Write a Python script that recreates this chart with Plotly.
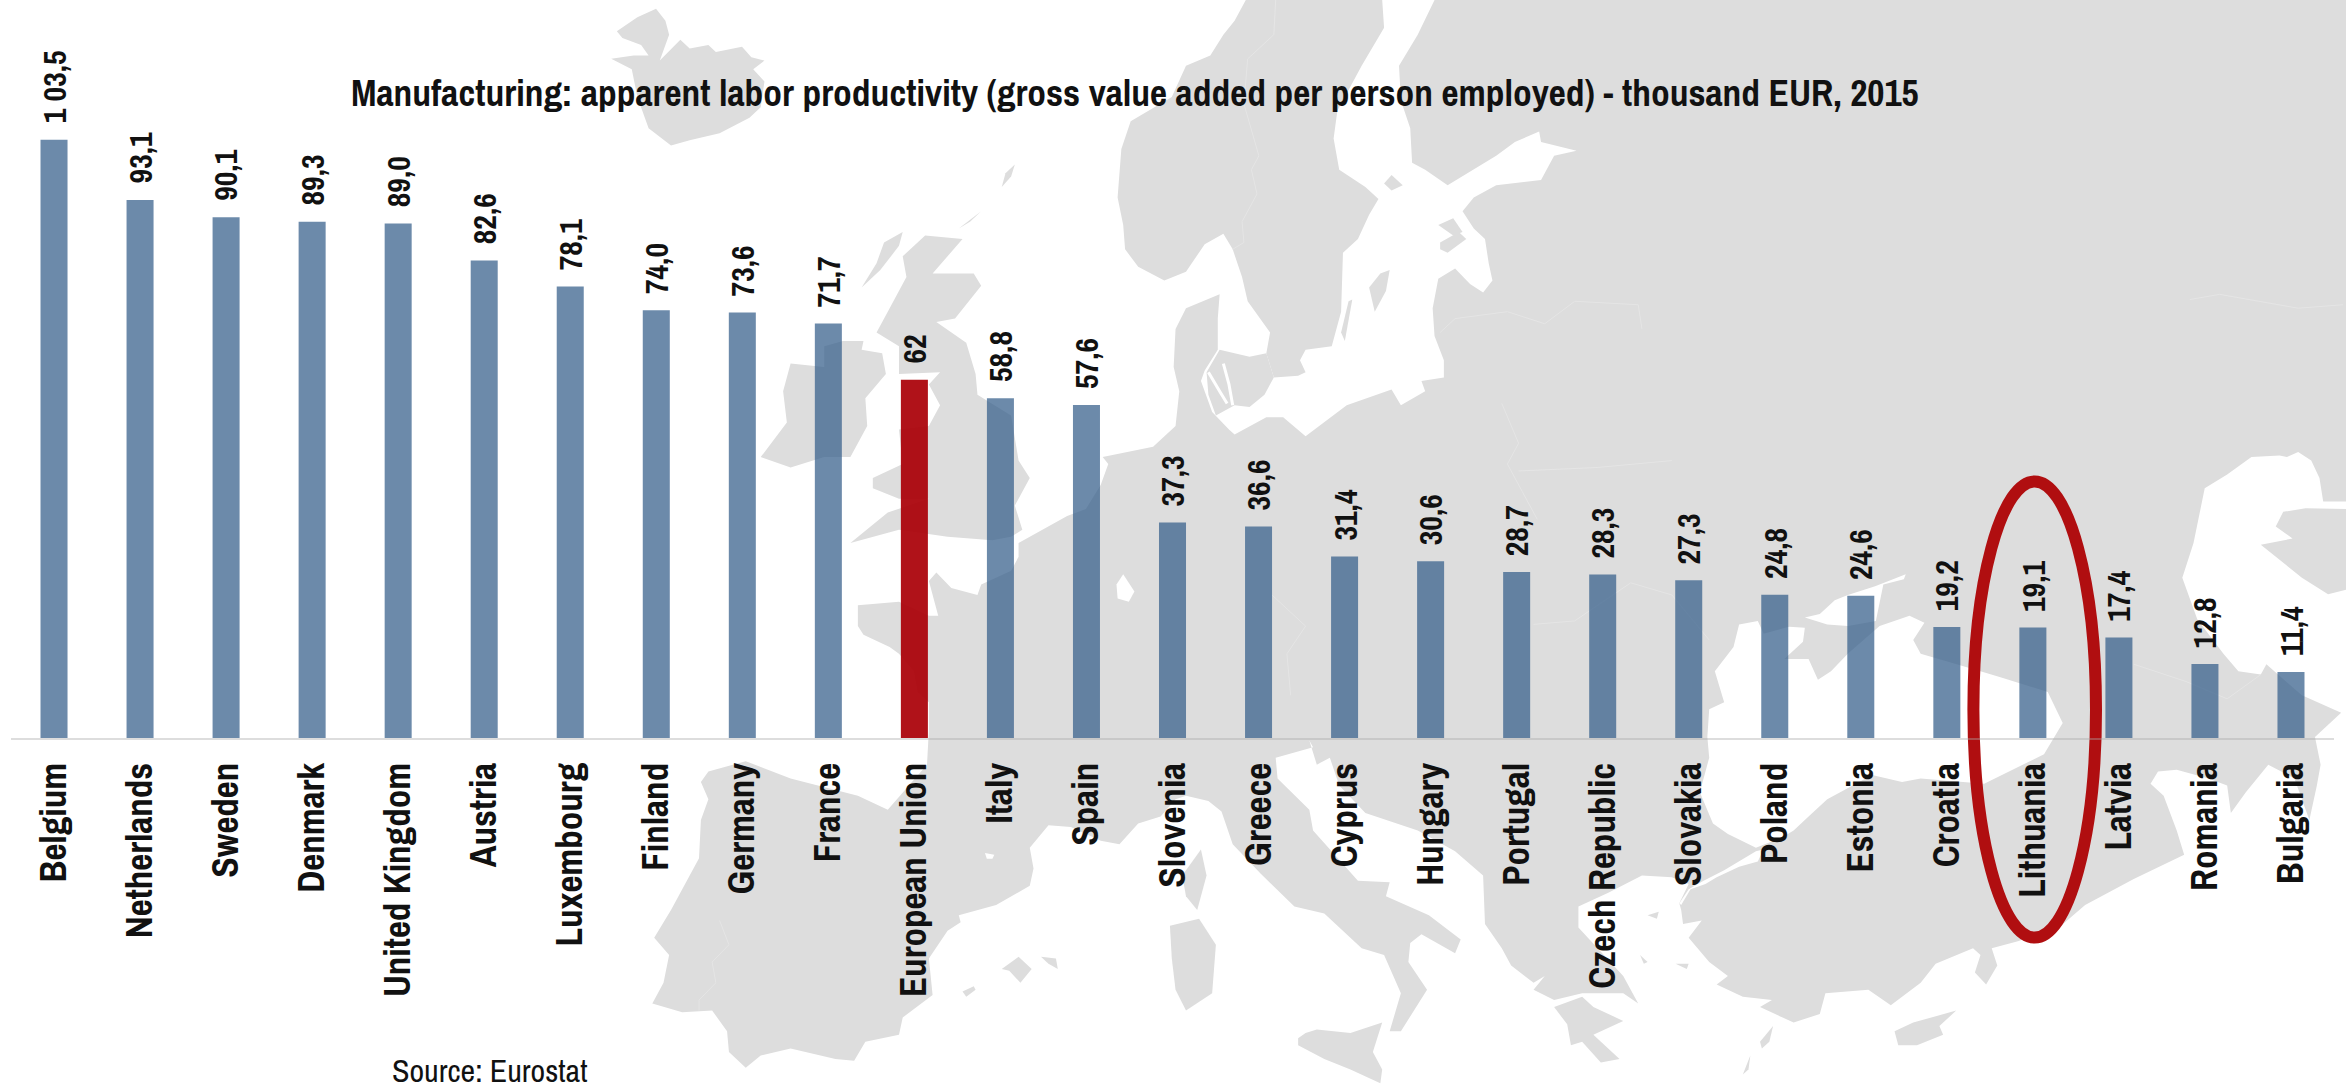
import plotly.graph_objects as go

# ---------- chart data ----------
countries = ["Belgium", "Netherlands", "Sweden", "Denmark", "United Kingdom", "Austria", "Luxembourg",
             "Finland", "Germany", "France", "European Union", "Italy", "Spain", "Slovenia", "Greece",
             "Cyprus", "Hungary", "Portugal", "Czech Republic", "Slovakia", "Poland", "Estonia",
             "Croatia", "Lithuania", "Latvia", "Romania", "Bulgaria"]
values = [103.5, 93.1, 90.1, 89.3, 89.0, 82.6, 78.1, 74.0, 73.6, 71.7, 62, 58.8, 57.6, 37.3, 36.6,
          31.4, 30.6, 28.7, 28.3, 27.3, 24.8, 24.6, 19.2, 19.1, 17.4, 12.8, 11.4]
value_labels = ["1 03,5", "93,1", "90,1", "89,3", "89,0", "82,6", "78,1", "74,0", "73,6", "71,7", "62",
                "58,8", "57,6", "37,3", "36,6", "31,4", "30,6", "28,7", "28,3", "27,3", "24,8", "24,6",
                "19,2", "19,1", "17,4", "12,8", "11,4"]
highlight = "European Union"
title_text = "Manufacturing: apparent labor productivity (gross value added per person employed) - thousand EUR, 2015"
source_text = "Source: Eurostat"

# ---------- page geometry ----------
W, H = 2346, 1086
L, R, BASE = 11, 12, 738
PW = W - L - R
NARROW = "Archivo Narrow, Roboto Condensed, Liberation Sans"
LAND = "#dddddd"

# ---------- background map (decoration, traced in six tiles of the page) ----------
ORG = {"A": (600, 0), "B": (1186, 0), "C": (1760, 0), "D": (600, 543), "E": (1186, 543), "F": (1760, 543)}
SX, SY = 1568 / 586, 1568 / 543


def tile(name, pts):
    ox, oy = ORG[name]
    return [(ox + x / SX, oy + y / SY) for x, y in pts]


def px_path(pts, close=True):
    s = " L ".join(f"{(x - L) / PW:.5f},{(BASE - y) / BASE:.5f}" for x, y in pts)
    return "M " + s + (" Z" if close else "")


scandinavia = (
    tile("B", [(160, 0), (130, 60), (100, 100), (65, 160), (0, 190)])
    + tile("A", [(1530, 280), (1420, 350), (1395, 430), (1385, 570), (1400, 650), (1405, 720), (1440, 770), (1510, 810)])
    + tile("B", [(0, 785), (50, 705), (100, 675), (125, 720), (150, 800), (165, 870), (225, 960), (215, 1020),
                 (235, 1090), (300, 1085), (320, 1075), (305, 1040), (320, 1010), (390, 1000), (415, 900),
                 (420, 730), (460, 690), (490, 620), (515, 575), (480, 540), (410, 490), (395, 400), (405, 320),
                 (470, 190), (530, 80), (525, 0)])
)
mainland = (
    tile("B", [(665, 0), (620, 100), (570, 190), (575, 290), (600, 370), (605, 470), (640, 490), (700, 535),
               (830, 450), (880, 410), (945, 380), (950, 410), (1045, 435), (985, 450), (950, 520), (830, 535),
               (770, 570), (740, 610), (770, 660), (800, 690), (810, 760), (820, 810), (795, 845), (760, 820),
               (720, 775), (675, 805), (660, 890), (665, 970), (690, 1040), (690, 1090), (630, 1100), (640, 1130),
               (575, 1170), (550, 1125), (430, 1170), (320, 1260), (260, 1205), (215, 1205), (130, 1255),
               (115, 1240), (70, 1190), (40, 1100), (50, 1070), (85, 1010), (85, 920), (90, 850), (0, 890)])
    + tile("A", [(1540, 950), (1535, 1060), (1550, 1130), (1540, 1230), (1480, 1290), (1345, 1320), (1360, 1340),
                 (1340, 1400), (1300, 1470), (1250, 1490), (1120, 1568)])
    + tile("D", [(1120, 40), (1100, 80), (1020, 120), (1010, 150), (940, 130), (900, 85), (880, 110), (905, 210),
                 (880, 210), (800, 170), (690, 180), (690, 240), (705, 265), (775, 300), (800, 320), (840, 370),
                 (850, 430), (880, 460), (880, 540), (875, 640), (770, 770), (690, 730), (510, 680), (390, 630),
                 (290, 660), (270, 690), (290, 740), (270, 800), (265, 910), (190, 1060), (145, 1140), (185, 1190),
                 (170, 1270), (140, 1330), (220, 1355), (300, 1350), (340, 1410), (345, 1470), (390, 1515),
                 (430, 1480), (510, 1460), (630, 1490), (680, 1495), (710, 1440), (800, 1420), (810, 1370),
                 (890, 1305), (880, 1200), (930, 1120), (965, 1095), (960, 1075), (1060, 1045), (1150, 990),
                 (1160, 940), (1150, 880), (1200, 815), (1260, 820), (1340, 860), (1390, 870), (1440, 810),
                 (1500, 790), (1540, 740)])
    + tile("E", [(0, 730), (60, 745), (95, 775), (125, 870), (200, 955), (290, 1050), (370, 1070), (470, 1170),
                 (530, 1190), (575, 1300), (545, 1410), (575, 1410), (645, 1290), (595, 1210), (600, 1155),
                 (630, 1130), (720, 1185), (735, 1145), (650, 1075), (535, 1020), (545, 980), (460, 975),
                 (340, 830), (330, 770), (245, 680), (240, 620), (340, 590), (330, 570), (350, 640), (385, 620),
                 (410, 700), (480, 780), (620, 830), (720, 890), (795, 960), (800, 1100), (845, 1170), (870, 1220),
                 (930, 1270), (960, 1250), (930, 1290), (985, 1320), (1060, 1300), (1170, 1300), (1210, 1330),
                 (1170, 1250), (1050, 1110), (1050, 1050), (1130, 1010), (1220, 960), (1300, 965), (1345, 985),
                 (1320, 1040), (1325, 1060), (1330, 1100), (1380, 1090), (1345, 1140), (1400, 1210), (1450, 1250),
                 (1420, 1275), (1490, 1310), (1568, 1320)])
    + tile("F", [(0, 1340), (90, 1385), (160, 1360), (175, 1300), (290, 1290), (350, 1335), (430, 1270), (470, 1215),
                 (570, 1170), (590, 1190), (575, 1240), (605, 1275), (635, 1220), (620, 1170), (690, 1150),
                 (800, 1110), (870, 1045), (1000, 970), (1135, 900), (1115, 830), (1080, 730), (1045, 695),
                 (1065, 660), (1115, 655), (1200, 680), (1250, 700), (1260, 780), (1300, 720), (1360, 640),
                 (1430, 680), (1470, 800), (1490, 700), (1500, 640), (1485, 560), (1555, 490), (1450, 440),
                 (1355, 350), (1340, 380), (1280, 370), (1240, 320), (1170, 220), (1130, 100)])
    + tile("C", [(1160, 1568), (1190, 1410), (1250, 1370), (1315, 1320), (1390, 1315), (1410, 1320), (1440, 1305),
                 (1475, 1330), (1497, 1380), (1507, 1448), (1568, 1448), (1568, 0)])
)
land_parts = [
    scandinavia,
    mainland,
    tile("C", [(1400, 1478), (1460, 1468), (1568, 1470), (1568, 1568)]) + tile("F", [(1568, 135), (1520, 148), (1450, 100), (1340, 5)]) + tile("C", [(1425, 1555), (1380, 1520)]),
    # Iceland
    tile("A", [(150, 25), (175, 60), (185, 100), (160, 175), (215, 115), (240, 140), (290, 130), (310, 150), (380, 135),
               (405, 165), (440, 175), (410, 200), (440, 235), (430, 310), (400, 340), (320, 385), (240, 405), (190, 420),
               (130, 370), (100, 280), (85, 200), (30, 170), (90, 160), (130, 160), (110, 130), (60, 110), (45, 90), (100, 50)]),
    # Ireland
    tile("A", [(650, 985), (705, 985), (700, 1010), (755, 1020), (765, 1080), (710, 1150), (715, 1230), (670, 1320),
               (600, 1320), (510, 1350), (430, 1320), (500, 1220), (490, 1130), (510, 1050), (600, 1060), (600, 1000)]),
    # Great Britain
    tile("A", [(870, 680), (970, 690), (890, 790), (1000, 790), (1020, 825), (950, 920), (900, 930), (980, 990),
               (1005, 1080), (1010, 1140), (1100, 1200), (1120, 1330), (1150, 1380), (1110, 1460), (1130, 1530),
               (1100, 1550), (1050, 1560), (930, 1550), (800, 1530), (670, 1568), (770, 1480), (880, 1440),
               (800, 1440), (730, 1410), (730, 1380), (810, 1340), (800, 1240), (880, 1230), (910, 1170), (880, 1110),
               (910, 1075), (800, 1080), (800, 1000), (740, 960), (770, 900), (820, 800), (810, 740)]),
    tile("A", [(810, 670), (760, 700), (740, 760), (700, 830), (750, 780), (800, 710)]),
    tile("A", [(1110, 475), (1085, 500), (1075, 540), (1100, 510)]),
    tile("A", [(1020, 610), (960, 660), (990, 640)]),
    # Baltic and Danish islands
    tile("B", [(545, 780), (520, 790), (490, 830), (505, 900), (535, 840)]),
    tile("B", [(445, 865), (425, 985), (415, 960), (435, 870)]),
    tile("B", [(675, 650), (715, 630), (740, 670), (715, 680)]),
    tile("B", [(680, 700), (730, 670), (750, 690), (700, 730), (680, 720)]),
    tile("B", [(530, 530), (550, 505), (580, 535), (550, 550)]),
    tile("B", [(55, 1075), (90, 1010), (170, 1030), (215, 1020), (235, 1090), (210, 1140), (170, 1175), (130, 1170), (80, 1200), (60, 1140)]),
    # Mediterranean islands
    tile("D", [(1120, 1195), (1155, 1230), (1125, 1270), (1095, 1235), (1075, 1230)]),
    tile("D", [(1180, 1195), (1220, 1200), (1225, 1230), (1200, 1215)]),
    tile("D", [(1000, 1280), (1005, 1290), (980, 1310), (970, 1295)]),
    tile("D", [(1525, 1105)]) + tile("E", [(35, 1085), (80, 1160), (70, 1300), (0, 1350)]) + tile("D", [(1540, 1290), (1530, 1200)]),
    tile("E", [(40, 885), (55, 960), (30, 1060), (0, 1020), (-10, 960)]),
    tile("E", [(300, 1430), (320, 1415), (350, 1405), (440, 1415), (525, 1385), (500, 1470), (525, 1520), (520, 1560),
               (440, 1520), (370, 1490), (300, 1450)]),
    tile("E", [(985, 1340), (1060, 1310), (1090, 1340), (1170, 1380), (1090, 1420), (1160, 1490), (1110, 1500),
               (1060, 1440), (1030, 1450), (1020, 1390)]),
    tile("E", [(1235, 1075), (1265, 1065), (1260, 1085)]),
    tile("E", [(1215, 1190), (1235, 1210), (1225, 1215)]),
    tile("E", [(1310, 1215), (1345, 1215), (1340, 1230)]),
    tile("E", [(1490, 1535), (1510, 1480), (1505, 1520)]),
    tile("F", [(0, 1440), (35, 1395), (25, 1440), (5, 1460)]),
    tile("F", [(360, 1410), (410, 1385), (525, 1350), (480, 1395), (490, 1420), (420, 1450), (370, 1450)]),
]
water_parts = [
    # Black Sea
    tile("E", [(1480, 235), (1465, 300), (1415, 370), (1440, 460), (1400, 480), (1395, 560), (1400, 620), (1375, 720),
               (1410, 810), (1450, 840), (1525, 880)])
    + tile("F", [(60, 850), (90, 830), (130, 790), (180, 740), (300, 670), (380, 690), (430, 680), (600, 695), (760, 610),
                 (810, 520), (770, 430), (650, 390), (590, 370), (430, 320), (410, 280), (440, 230), (400, 210),
                 (320, 240), (235, 320), (190, 370), (155, 395), (130, 335), (65, 335), (115, 285), (120, 245),
                 (78, 242), (10, 262)])
    + tile("E", [(1530, 225)]),
    # Sea of Azov
    tile("F", [(120, 215), (160, 205), (200, 165), (235, 150), (308, 125), (390, 90), (385, 105), (330, 120), (310, 225),
               (235, 240), (180, 235)]),
    # Marmara
    tile("E", [(1320, 1040), (1345, 1000), (1385, 975), (1440, 945), (1525, 890), (1545, 885), (1530, 920), (1480, 935),
               (1420, 965), (1390, 985), (1350, 1000), (1325, 1045)]),
    # small lakes
    tile("D", [(1400, 90), (1430, 140), (1415, 170), (1385, 160), (1382, 120)]),
    tile("D", [(1030, 895), (1055, 900), (1050, 912), (1035, 912)]),
]
border_parts = [
    tile("B", [(240, 0), (235, 100), (165, 170), (155, 300), (195, 450), (175, 490), (190, 560), (150, 640), (155, 700), (125, 720)]),
    tile("B", [(680, 960), (720, 920), (860, 900), (960, 935), (1040, 870), (1210, 880), (1220, 950)]),
    tile("B", [(845, 1165), (890, 1280), (860, 1340), (900, 1420), (940, 1500)]),
    tile("B", [(890, 1360), (1100, 1350), (1300, 1330)]),
    tile("E", [(230, 150), (320, 240), (270, 320), (280, 440)]),
    tile("E", [(930, 235), (1040, 225), (1190, 115), (1300, 150), (1400, 280)]),
    tile("D", [(320, 1090), (345, 1160), (300, 1210), (310, 1270), (265, 1320), (265, 1350)]),
    tile("F", [(1000, 350), (1140, 400), (1250, 450), (1340, 380)]),
    tile("C", [(1150, 865), (1230, 850), (1440, 890), (1560, 880)]),
]
white_veins = [
    tile("B", [(100, 1050), (115, 1110), (125, 1170)]),
    tile("B", [(60, 1075), (90, 1130), (110, 1165)]),
]

shapes = []
for part in land_parts:
    shapes.append(dict(type="path", xref="paper", yref="paper", layer="below", path=px_path(part),
                       fillcolor=LAND, line=dict(width=0)))
for part in water_parts:
    shapes.append(dict(type="path", xref="paper", yref="paper", layer="below", path=px_path(part),
                       fillcolor="#ffffff", line=dict(width=0)))
for part in border_parts:
    shapes.append(dict(type="path", xref="paper", yref="paper", layer="below", path=px_path(part, close=False),
                       line=dict(color="#e5e5e5", width=1)))
for part in white_veins:
    shapes.append(dict(type="path", xref="paper", yref="paper", layer="below", path=px_path(part, close=False),
                       line=dict(color="#ffffff", width=3)))

# Ring around Lithuania
ex0, ex1, ey0, ey1 = 1973.4, 2096, 481.4, 937.6
shapes.append(dict(type="circle", xref="paper", yref="paper", layer="below",
                   x0=(ex0 - L) / PW, x1=(ex1 - L) / PW, y0=(BASE - ey1) / BASE, y1=(BASE - ey0) / BASE,
                   line=dict(color="rgb(176,14,16)", width=12), fillcolor="rgba(0,0,0,0)"))

# ---------- figure ----------
bar_colors = ["rgba(170,0,8,0.93)" if c == highlight else "rgba(57,97,140,0.74)" for c in countries]
fig = go.Figure(go.Bar(x=countries, y=values, width=0.314, marker=dict(color=bar_colors, line=dict(width=0)),
                       hoverinfo="x+y", showlegend=False))

annotations = [dict(x=c, y=v, xref="x", yref="y", text="<b>" + t + "</b>", showarrow=False, textangle=-90, yanchor="bottom",
                    xanchor="center", yshift=14, font=dict(family=NARROW, size=32, color="#111111"))
               for c, v, t in zip(countries, values, value_labels)]
annotations.append(dict(x=(1134.5 - L) / PW, y=(BASE - 93) / BASE, xref="paper", yref="paper", text="<b>" + title_text + "</b>",
                        showarrow=False, xanchor="center", yanchor="middle",
                        font=dict(family=NARROW, size=37.4, color="#111111")))
annotations.append(dict(x=(390 - L) / PW, y=(BASE - 1070) / BASE, xref="paper", yref="paper", text=source_text,
                        showarrow=False, xanchor="left", yanchor="middle",
                        font=dict(family=NARROW, size=32, color="#111111")))

fig.update_layout(
    width=W, height=H, margin=dict(l=L, r=R, t=0, b=H - BASE, pad=0, autoexpand=False),
    paper_bgcolor="white", plot_bgcolor="rgba(0,0,0,0)", showlegend=False,
    shapes=shapes, annotations=annotations,
    xaxis=dict(type="category", categoryorder="array", categoryarray=countries, range=[-0.5, 26.5],
               tickangle=-90, ticks="outside", ticklen=8, tickcolor="rgba(0,0,0,0)",
               tickfont=dict(family=NARROW, size=37, color="#111111", weight="bold"),
               showline=True, linecolor="rgba(170,170,170,0.4)", linewidth=2, showgrid=False, zeroline=False,
               automargin=False, fixedrange=True),
    yaxis=dict(visible=False, range=[0, BASE / 5.78], showgrid=False, zeroline=False, fixedrange=True),
)
fig.write_html("out.html", config={"displayModeBar": False},
               post_script="document.body.style.margin='0';document.body.style.overflow='hidden';")
